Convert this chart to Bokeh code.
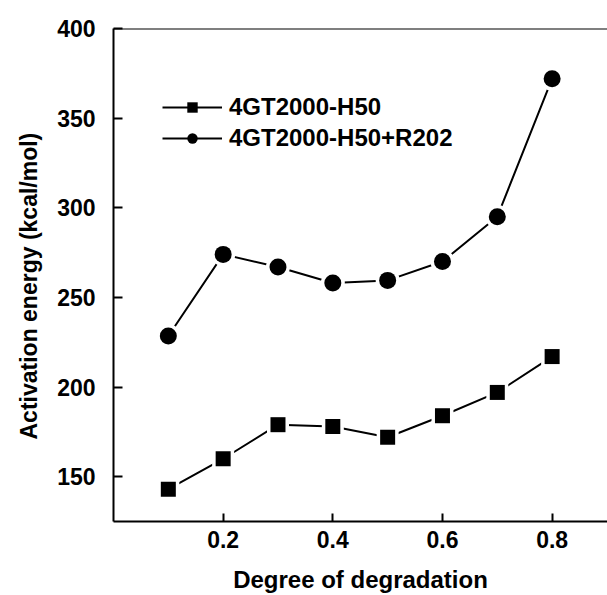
from bokeh.plotting import figure
from bokeh.models import Range1d, FixedTicker, Span, Legend, LegendItem, ColumnDataSource, Title
from bokeh.embed import file_html
from bokeh.resources import INLINE

degree = [0.1, 0.2, 0.3, 0.4, 0.5, 0.6, 0.7, 0.8]
h50 = [143, 160, 179, 178, 172, 184, 197, 217]
h50_r202 = [228.5, 274, 267, 258, 259.5, 270, 295, 372]
series_names = ["4GT2000-H50", "4GT2000-H50+R202"]
x_ticks = [0.2, 0.4, 0.6, 0.8]
y_ticks = [150, 200, 250, 300, 350, 400]
x_title = "Degree of degradation"
y_title = "Activation energy (kcal/mol)"

FONT = "Liberation Sans"

p = figure(width=607, height=595, output_backend="svg", toolbar_location=None,
           x_range=Range1d(0, 0.901), y_range=Range1d(125, 400),
           min_border_top=28, min_border_right=0, min_border_left=113, min_border_bottom=73)
p.outline_line_color = None
p.grid.visible = False
p.background_fill_color = "white"

for ax in (p.xaxis[0], p.yaxis[0]):
    ax.axis_line_width = 2
    ax.axis_line_color = "black"
    ax.major_tick_line_width = 2
    ax.major_tick_line_color = "black"
    ax.major_tick_out = 0
    ax.minor_tick_line_color = None
    ax.major_label_text_font = FONT
    ax.major_label_text_font_style = "bold"
    ax.major_label_text_font_size = "23px"
    ax.major_label_text_color = "black"
    ax.axis_label_text_font = FONT
    ax.axis_label_text_font_style = "bold"
    ax.axis_label_text_font_size = "24px"
    ax.axis_label_text_color = "black"

p.xaxis.ticker = FixedTicker(ticks=x_ticks)
p.yaxis.ticker = FixedTicker(ticks=y_ticks)
p.xaxis.major_tick_in = 8
p.yaxis.major_tick_in = 9
p.xaxis.major_label_standoff = 9
p.yaxis.major_label_standoff = 18
p.xaxis.axis_label = x_title
p.xaxis.axis_label_standoff = 15

p.add_layout(Span(location=400, dimension="width", line_color="black", line_width=2))

# y-axis title as a side title, shifted along the axis like the reference
p.add_layout(Title(text=y_title, align="left", offset=82, standoff=25,
                   text_font=FONT, text_font_style="bold", text_font_size="23px",
                   text_color="black"), "left")

src1 = ColumnDataSource(dict(x=degree, y=h50))
src2 = ColumnDataSource(dict(x=degree, y=h50_r202))

items = []
for name, src, marker, size in ((series_names[0], src1, "square", 15),
                                (series_names[1], src2, "circle", 17)):
    lr = p.line("x", "y", source=src, line_color="black", line_width=2)
    p.scatter("x", "y", source=src, marker=marker, size=size + 7,
              fill_color="white", line_color=None)
    mr = p.scatter("x", "y", source=src, marker=marker, size=size,
                   fill_color="black", line_color=None)
    items.append(LegendItem(label=name, renderers=[lr, mr]))

legend = Legend(items=items, location=(49, 369), orientation="vertical",
                glyph_width=60, glyph_height=26, label_height=26, spacing=3,
                label_standoff=7, padding=0, margin=0,
                background_fill_alpha=0, border_line_alpha=0,
                label_text_font=FONT, label_text_font_style="bold",
                label_text_font_size="24px", label_text_color="black")
p.add_layout(legend, "center")

open("out.html", "w").write(file_html(p, INLINE))
